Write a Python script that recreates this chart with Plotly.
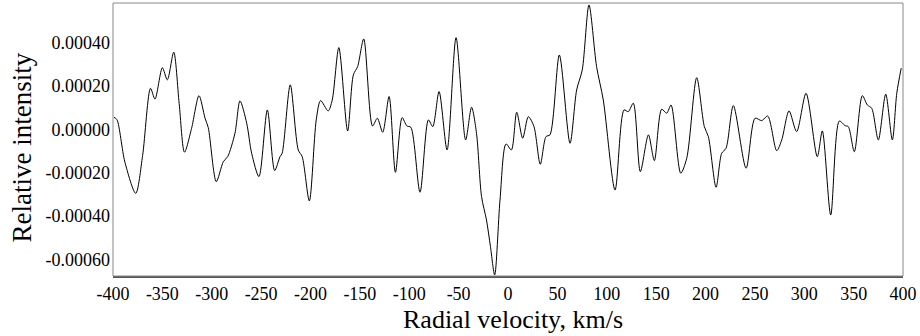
import plotly.graph_objects as go

velocity = [-399, -396, -388, -377, -370, -362, -357.5, -350, -345, -338.5, -333, -327.6, -320.4,
            -312.9, -306.8, -303.5, -295.4, -288.3, -283.9, -276.5, -271.4, -264.6, -259.6,
            -252.2, -243.7, -236.3, -230.9, -228.7, -220.5, -212.4, -208.4, -201.2, -194.2,
            -189.8, -182.1, -178, -171.3, -162.4, -156.6, -152.3, -146.1, -137.2, -132.3,
            -126.9, -120.4, -114, -107.2, -102.4, -98.4, -89.1, -80.6, -76.2, -69.8, -61.7,
            -52.6, -42.9, -36.9, -31.9, -26.8, -21.8, -17.8, -13.5, -8.1, -2, 3.4, 8.8, 14.9,
            20.6, 26.3, 32.7, 38.5, 42.5, 52, 62.8, 69.5, 75.2, 82, 89.7, 96.5, 108.4, 117.5,
            121.8, 126.9, 134.0, 142.2, 148.2, 155.6, 160.7, 165.1, 174.9, 181, 191.1, 198.8,
            202.9, 210.7, 216.4, 220.8, 228.2, 241.1, 250.2, 256.9, 263, 272.1, 277.2, 284.6,
            292.3, 301.8, 313.2, 318.3, 326.8, 335.5, 341.3, 344.6, 350.7, 358.8, 363.9, 368.3,
            375, 382.5, 389.2, 393.7, 398.2]

intensity = [5.6e-5, 4.5e-5, -0.00015, -0.000295, -0.00012, 0.00019, 0.00014, 0.000285, 0.000229,
             0.000357, 0.00012, -0.000105, 0.0000055, 0.000156, 0.000052, 0.000008, -0.000241,
             -0.000149, -0.000126, -0.0000176, 0.000132, 0.0000286, -0.00011, -0.000218, 0.00009,
             -0.00019, -0.000126, -0.00011, 0.000206, -0.0000947, -0.000126, -0.00033, 0.000044,
             0.000133, 0.0000855, 0.000136, 0.000378, -0.0000069, 0.000252, 0.00029, 0.000418,
             0.000016, 0.0000517, -0.000013, 0.000152, -0.000198, 0.0000545, 0.000016, 0.00001,
             -0.00029, 0.000044, 0.000013, 0.000175, -0.0000947, 0.000424, -0.0000485, 0.0001026,
             -0.0000176, -0.00031, -0.000418, -0.00054, -0.000672, -0.000326, -0.000067,
             -0.0000947, 0.0000795, -0.0000407, 0.000059, 0.000013, -0.000161, -0.000033,
             -0.000025, 0.000344, -0.0000638, 0.000182, 0.000275, 0.000575, 0.00029, 0.000136,
             -0.00028, 0.00009, 0.000082, 0.000121, -0.000195, -0.000025, -0.000144, 0.0000933,
             0.000075, 0.000113, -0.000202, -0.000133, 0.000239, 0.000013, -0.000033, -0.000267,
             -0.00011, -0.000087, 0.00011, -0.000179, 0.0000517, 0.0000407, 0.000062, -0.000098,
             -0.0000485, 0.0000855, -0.00001, 0.000167, -0.000126, -0.0000069, -0.000395,
             0.000039, 0.0000176, 0.000013, -0.0001026, 0.000156, 0.000113, 0.000098, -0.0000485,
             0.000163, -0.0000485, 0.000167, 0.000283]

x_ticks = list(range(-400, 401, 50))
x_tick_text = [str(v) for v in x_ticks]
y_ticks = [-0.0006, -0.0004, -0.0002, 0.0, 0.0002, 0.0004]
y_tick_text = ["-0.00060", "-0.00040", "-0.00020", "0.00000", "0.00020", "0.00040"]
x_title = "Radial velocity, km/s"
y_title = "Relative intensity"

fig = go.Figure()
fig.add_trace(go.Scatter(x=velocity, y=intensity, mode="lines",
                         line=dict(color="black", width=1, shape="spline", smoothing=0.8),
                         hoverinfo="skip", showlegend=False))

font = "Liberation Serif"
fig.update_layout(
    width=920, height=336,
    margin=dict(l=113, r=17, t=3, b=60),
    paper_bgcolor="white", plot_bgcolor="white",
    font=dict(family=font, color="black"),
    xaxis=dict(range=[-400, 400], tickvals=x_ticks, ticktext=x_tick_text, ticks="",
               showgrid=False, zeroline=False,
               showline=True, linecolor="#555555", linewidth=2,
               tickfont=dict(size=18, family=font), automargin=False),
    yaxis=dict(range=[-0.000677, 0.000584], tickvals=y_ticks, ticktext=y_tick_text, ticks="",
               showgrid=False, zeroline=False, showline=False, ticklabelstandoff=2,
               tickfont=dict(size=18, family=font), automargin=False),
    shapes=[dict(type="rect", xref="paper", yref="paper", x0=0, y0=0, x1=1, y1=1,
                 line=dict(color="#888888", width=1), fillcolor="rgba(0,0,0,0)", layer="above")],
    annotations=[
        dict(text=x_title, xref="paper", yref="paper", x=0.5, y=0, xanchor="center",
             yanchor="middle", xshift=5, yshift=-43, showarrow=False,
             font=dict(size=26, family=font, color="black")),
        dict(text=y_title, xref="paper", yref="paper", x=0, y=0.5, xanchor="center",
             yanchor="middle", xshift=-92, yshift=-8, textangle=-90, showarrow=False,
             font=dict(size=27, family=font, color="black")),
    ],
)

fig.write_html("out.html", config={"displayModeBar": False},
               post_script="document.body.style.margin='0';document.body.style.overflow='hidden';")
